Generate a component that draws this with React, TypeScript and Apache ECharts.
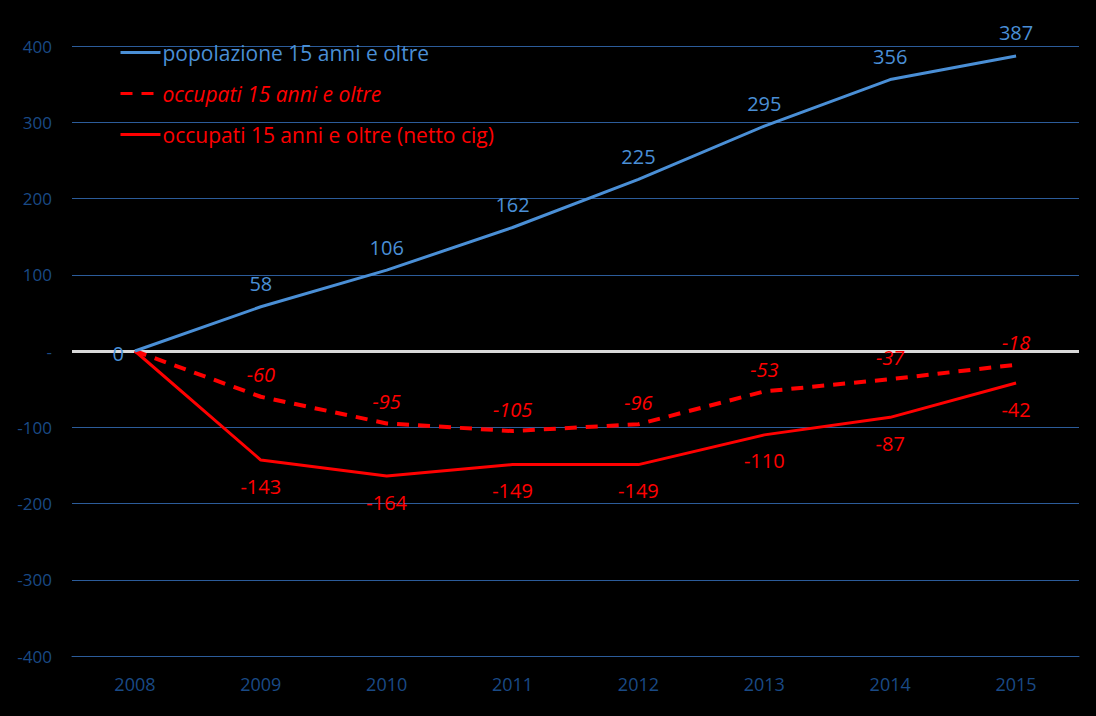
import React, { useEffect, useRef } from "react";
import * as echarts from "echarts";

const years = ["2008", "2009", "2010", "2011", "2012", "2013", "2014", "2015"];
const popolazione = [0, 58, 106, 162, 225, 295, 356, 387];
const occupati = [0, -60, -95, -105, -96, -53, -37, -18];
const occupatiNettoCig = [0, -143, -164, -149, -149, -110, -87, -42];

const BLUE = "#4a8fd6";
const RED = "#ff0000";
const AXIS_TEXT = "#1a4a86";
const GRID = "#2c5c9a";
const FONT = "'Open Sans', Lato, sans-serif";

export default function App() {
  const ref = useRef<HTMLDivElement>(null);
  useEffect(() => {
    const chart = echarts.init(ref.current!, null, { renderer: "svg" });
    const labelBase = { fontFamily: FONT, fontSize: 20 };
    const hiddenSymbol = { color: "transparent", borderWidth: 0 };
    chart.setOption({
      animation: false,
      backgroundColor: "#000000",
      textStyle: { fontFamily: FONT },
      grid: { left: 72, right: 17, top: 46, bottom: 60, containLabel: false },
      legend: {
        orient: "vertical",
        left: 114,
        top: 37,
        itemWidth: 40,
        itemHeight: 14,
        itemGap: 20,
        padding: [5, 2, 5, 5],
        lineStyle: { width: 3 },
        textStyle: { padding: [0, 0, 0, -3] },
        data: [
          { name: "popolazione 15 anni e oltre", textStyle: { color: BLUE, fontSize: 21, fontFamily: FONT } },
          { name: "occupati 15 anni e oltre", textStyle: { color: RED, fontSize: 21, fontStyle: "italic", fontFamily: FONT } },
          { name: "occupati 15 anni e oltre (netto cig)", textStyle: { color: RED, fontSize: 21, fontFamily: FONT } },
        ],
      },
      xAxis: {
        type: "category",
        data: years,
        boundaryGap: true,
        axisLine: { onZero: false, lineStyle: { color: GRID, width: 1 } },
        axisTick: { show: false },
        axisLabel: { color: AXIS_TEXT, fontSize: 18, margin: 19, fontFamily: FONT },
        splitLine: { show: false },
      },
      yAxis: {
        type: "value",
        min: -400,
        max: 400,
        interval: 100,
        axisLine: { show: false },
        axisTick: { show: false },
        axisLabel: {
          color: AXIS_TEXT,
          fontSize: 17,
          margin: 20,
          fontFamily: FONT,
          formatter: (v: number) => (v === 0 ? "-" : String(v)),
        },
        splitLine: { lineStyle: { color: GRID, width: 1 } },
      },
      series: [
        {
          name: "popolazione 15 anni e oltre",
          type: "line",
          data: popolazione.map((v, i) =>
            i === 0 ? { value: v, label: { position: "left", distance: 10, offset: [0, 2] } } : v
          ),
          symbol: "circle",
          symbolSize: 2,
          showSymbol: true,
          z: 4,
          lineStyle: { color: BLUE, width: 3 },
          itemStyle: hiddenSymbol,
          label: { show: true, position: "top", distance: 12, color: BLUE, ...labelBase },
          markLine: {
            silent: true,
            symbol: "none",
            label: { show: false },
            lineStyle: { color: "#d9d9d9", width: 3, type: "solid" },
            data: [{ yAxis: 0 }],
            z: 1,
          },
        },
        {
          name: "occupati 15 anni e oltre",
          type: "line",
          data: occupati.map((v, i) => (i === 0 ? { value: v, label: { show: false } } : v)),
          symbol: "circle",
          symbolSize: 2,
          showSymbol: true,
          z: 3,
          lineStyle: { color: RED, width: 4, type: [12, 9] },
          itemStyle: hiddenSymbol,
          label: {
            show: true,
            position: "top",
            distance: 11,
            color: RED,
            fontStyle: "italic",
            ...labelBase,
          },
        },
        {
          name: "occupati 15 anni e oltre (netto cig)",
          type: "line",
          data: occupatiNettoCig.map((v, i) => (i === 0 ? { value: v, label: { show: false } } : v)),
          symbol: "circle",
          symbolSize: 2,
          showSymbol: true,
          z: 3,
          lineStyle: { color: RED, width: 3 },
          itemStyle: hiddenSymbol,
          label: { show: true, position: "bottom", distance: 15, color: RED, ...labelBase },
        },
      ],
    });
    return () => chart.dispose();
  }, []);
  return (
    <div
      ref={ref}
      style={{ position: "absolute", left: 0, top: 0, width: 1096, height: 716, background: "#000" }}
    />
  );
}
